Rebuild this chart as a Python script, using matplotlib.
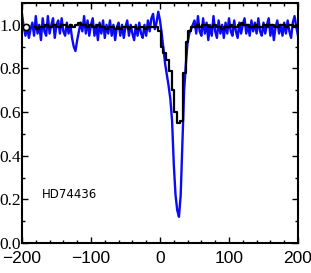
#!/usr/bin/env python3
"""Line profile of HD74436: noisy observed profile (blue) and binned model (black)."""
import numpy as np
import matplotlib
matplotlib.use("Agg")
import matplotlib.pyplot as plt
from matplotlib.ticker import MultipleLocator

# blue profile, 2.5 km/s grid from -200 to 200
blue_flux = [
    # -200 .. -12.5
    1.05, 0.99, 0.95, 0.99, 0.94, 0.98, 1.01, 0.95, 1.04, 0.96,
    1.00, 0.93, 1.03, 0.97, 0.95, 1.04, 0.96, 1.00, 1.03, 0.94,
    1.00, 1.02, 0.96, 1.03, 0.97, 0.95, 1.01, 0.96, 1.00, 0.94,
    0.90, 0.88, 0.93, 0.97, 1.01, 0.97, 1.04, 0.96, 1.02, 0.95,
    1.00, 1.03, 0.95, 1.00, 0.93, 1.01, 0.96, 1.02, 0.94, 1.00,
    0.96, 1.02, 0.95, 1.00, 0.93, 0.99, 1.01, 0.95, 1.00, 0.94,
    0.99, 1.02, 0.95, 1.00, 0.96, 0.93, 1.00, 0.95, 1.01, 0.96,
    0.94, 1.00, 0.95, 1.02, 0.97, 1.03,
    # -10 .. 45
    1.05, 0.98, 1.01, 1.06, 1.02, 0.96, 0.89, 0.82, 0.77, 0.72,
    0.66, 0.56, 0.36, 0.22, 0.15, 0.12, 0.22, 0.46, 0.70, 0.82,
    0.92, 0.96, 0.98,
    # 47.5 .. 200
    1.00, 1.02, 0.96, 1.04, 0.97, 0.95, 1.03, 0.96, 1.01, 0.93,
    1.00, 0.95, 1.04, 0.97, 0.94, 1.02, 0.96, 1.00, 0.94, 1.01,
    0.96, 1.03, 0.97, 0.95, 1.02, 0.97, 0.94, 1.01, 0.96, 1.00,
    1.03, 0.96, 1.00, 0.95, 1.02, 0.97, 1.01, 0.96, 1.03, 0.97,
    0.95, 1.01, 0.96, 1.00, 1.03, 0.95, 1.00, 0.93, 0.99, 1.02,
    0.96, 1.00, 0.95, 1.01, 0.96, 1.02, 0.97, 0.94, 1.01, 1.04,
    0.99, 0.95,
]
blue_vel = np.linspace(-200, 200, len(blue_flux))

# black binned profile, 4 km/s bins centred -181 .. 199
black_flux = [
    0.99, 0.98, 0.99, 0.99, 1.00, 0.99, 0.99, 1.00, 0.99, 0.99,
    1.00, 1.00, 0.99, 1.00, 0.99, 1.00, 1.01, 1.00, 1.00, 0.99,
    1.00, 0.99, 0.99, 1.00, 0.99, 0.99, 0.98, 0.99, 0.99, 0.98,
    0.99, 0.98, 0.99, 0.99, 0.98, 0.99, 0.99, 0.98, 0.99, 0.99,
    0.98, 0.99, 0.99, 0.99, 0.99,
    0.97, 0.90, 0.87, 0.84, 0.79, 0.70, 0.60, 0.55, 0.56, 0.78,
    0.92, 0.97, 0.99,
    0.99, 1.00, 0.99, 1.00, 1.00, 0.99, 0.99, 1.00, 0.99, 0.99,
    0.98, 0.99, 0.99, 1.00, 0.99, 0.99, 1.00, 1.01, 1.00, 1.00,
    0.99, 0.99, 1.00, 0.99, 0.99, 1.00, 0.99, 1.00, 1.00, 0.99,
    0.99, 1.00, 1.00, 0.99, 1.00, 1.00, 0.99, 1.00,
]
black_vel = np.linspace(-181, 199, len(black_flux))

marker_vel = [-194]
marker_flux = [0.99]
star_name = "HD74436"

fig = plt.figure(figsize=(3.11, 2.73), dpi=100)
ax = fig.add_axes([0.0707, 0.110, 0.8875, 0.879])

ax.plot(blue_vel, blue_flux, color="#0a0af5", lw=1.7)
ax.step(black_vel, black_flux, where="mid", color="black", lw=1.6)
ax.plot(marker_vel, marker_flux, "o", mfc="white", mec="black", ms=4.5,
        mew=1.2, zorder=5)

ax.set_xlim(-200, 200)
ax.set_ylim(0.0, 1.10)
ax.xaxis.set_major_locator(MultipleLocator(100))
ax.xaxis.set_minor_locator(MultipleLocator(20))
ax.yaxis.set_major_locator(MultipleLocator(0.2))
ax.yaxis.set_minor_locator(MultipleLocator(0.1))
ax.tick_params(which="both", direction="in", top=True, right=True, width=1.0)
ax.tick_params(which="major", length=4)
ax.tick_params(which="minor", length=2.2)
ax.tick_params(axis="x", pad=6)
ax.tick_params(axis="y", pad=1)
for sp in ax.spines.values():
    sp.set_linewidth(1.5)

ax.set_xticklabels([f"{int(t)}".replace("-", "\u2212") for t in ax.get_xticks()],
                   family="Liberation Sans", fontsize=12.5)
ax.set_yticklabels([f"{t:.1f}" for t in ax.get_yticks()],
                   family="Liberation Serif", fontsize=12.5)

ax.text(-171, 0.22, star_name, family="Liberation Sans Narrow", fontsize=8.5,
        ha="left", va="center")

fig.savefig("out.png", dpi=100)
